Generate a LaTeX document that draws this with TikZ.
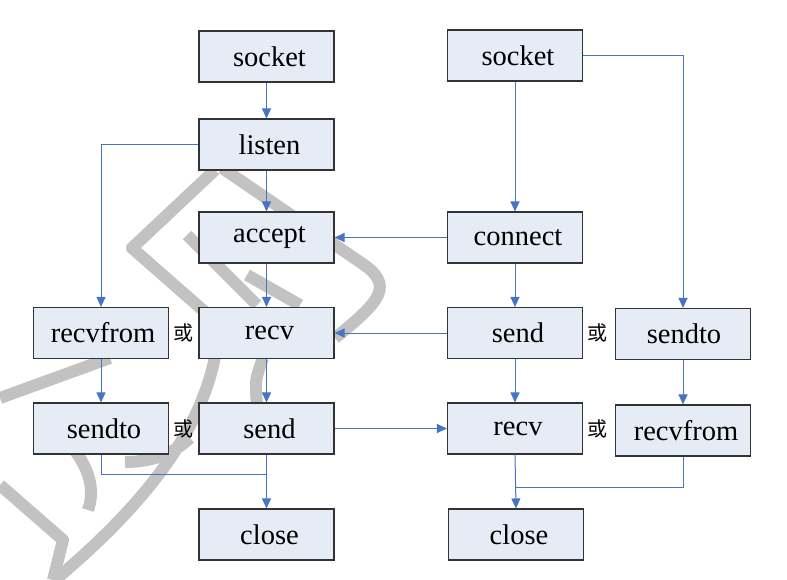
\documentclass[tikz,border=0pt]{standalone}
\usepackage{fontspec}
\setmainfont{Liberation Serif}
\newfontfamily\cjk{Noto Sans CJK SC}
\usetikzlibrary{arrows.meta}
\definecolor{boxfill}{RGB}{230,236,246}
\definecolor{arrowblue}{RGB}{72,116,196}
\definecolor{wmgrey}{RGB}{194,194,194}
\tikzset{
  stepbox/.style={draw=black!80, line width=1.1pt, fill=boxfill, minimum width=135pt, minimum height=51pt, inner sep=0pt, font=\fontsize{28.5}{30}\selectfont},
  conn/.style={draw=arrowblue, line width=1pt},
  arr/.style={conn, -{Triangle[length=10pt,width=9pt]}},
  orlabel/.style={font=\cjk\fontsize{20}{22}\selectfont, inner sep=0pt},
  wm/.style={draw=wmgrey, line width=12pt, line cap=butt, line join=round}
}
\begin{document}
\begin{tikzpicture}[x=1pt, y=-1pt]
\useasboundingbox[fill=white] (0,0) rectangle (787,580);
% watermark
\draw[wm] (215,170) -- (132,248) -- (205,312);
\draw[wm] (222,168) -- (360,262) .. controls (395,285) and (382,300) .. (335,338);
\draw[wm] (187,235) -- (257,305);
\draw[wm] (247,275) -- (300,305);
\draw[wm] (263,358) .. controls (255,380) .. (257,405);
\draw[wm] (215,357) .. controls (200,430) and (150,500) .. (55,580);
\draw[wm] (0,398) -- (110,358);
\draw[wm] (0,485) -- (63,540) -- (53,580);
\draw[wm] (57,430) .. controls (92,465) and (95,490) .. (88,510);
\draw[wm] (125,462) .. controls (155,462) and (175,452) .. (190,438);
% nodes
\node[stepbox] (ls1) at (266.5,56.5) {\hspace{6pt}socket};
\node[stepbox] (ll) at (266.5,144.5) {\hspace{6pt}listen};
\node[stepbox] (la) at (266.5,237.5) {\hspace{6pt}accept};
\node[stepbox] (lr) at (266.5,333) {\hspace{6pt}recv};
\node[stepbox] (ls) at (266.5,428.5) {\hspace{6pt}send};
\node[stepbox] (lc) at (266.5,534.5) {\hspace{6pt}close};
\node[stepbox] (lrf) at (101,333) {\hspace{4pt}recvfrom};
\node[stepbox] (lst) at (101,428.5) {\hspace{6pt}sendto};
\node[stepbox] (rs) at (515,55.5) {\hspace{6pt}socket};
\node[stepbox] (rc) at (515,237.5) {\hspace{6pt}connect};
\node[stepbox] (rse) at (515,333) {\hspace{6pt}send};
\node[stepbox] (rr) at (515,428.5) {\hspace{6pt}recv};
\node[stepbox] (rcl) at (516,534.5) {\hspace{6pt}close};
\node[stepbox] (rst) at (683,334) {\hspace{2pt}sendto};
\node[stepbox] (rrf) at (683,430.5) {\hspace{6pt}recvfrom};
\node[orlabel] (o1) at (183,333) {或};
\node[orlabel] (o2) at (183,429) {或};
\node[orlabel] (o3) at (597,333) {或};
\node[orlabel] (o4) at (597,429) {或};
\coordinate (j1) at (266.5,474);
\coordinate (j2) at (516,487);
% connectors
\draw[arr] (ls1) -- (ll);
\draw[arr] (ll) -- (la);
\draw[arr] (ll.west) -| (lrf.north);
\draw[arr] (la) -- (lr);
\draw[arr] (lr) -- (ls);
\draw[arr] (lrf) -- (lst);
\draw[arr] (ls) -- (lc);
\draw[conn] (lst.south) |- (j1);
\draw[arr] (ls.east) -- (rr.west);
\draw[arr] (rs) -- (rc);
\draw[arr] (rs.east) -| (rst.north);
\draw[arr] (rc.west) -- (la.east);
\draw[arr] (rc) -- (rse);
\draw[arr] (rse.west) -- (lr.east);
\draw[arr] (rse) -- (rr);
\draw[arr] (rst) -- (rrf);
\draw[arr] (rr.south) -- (rcl.north);
\draw[conn] (rrf.south) |- (j2);
\end{tikzpicture}
\end{document}
